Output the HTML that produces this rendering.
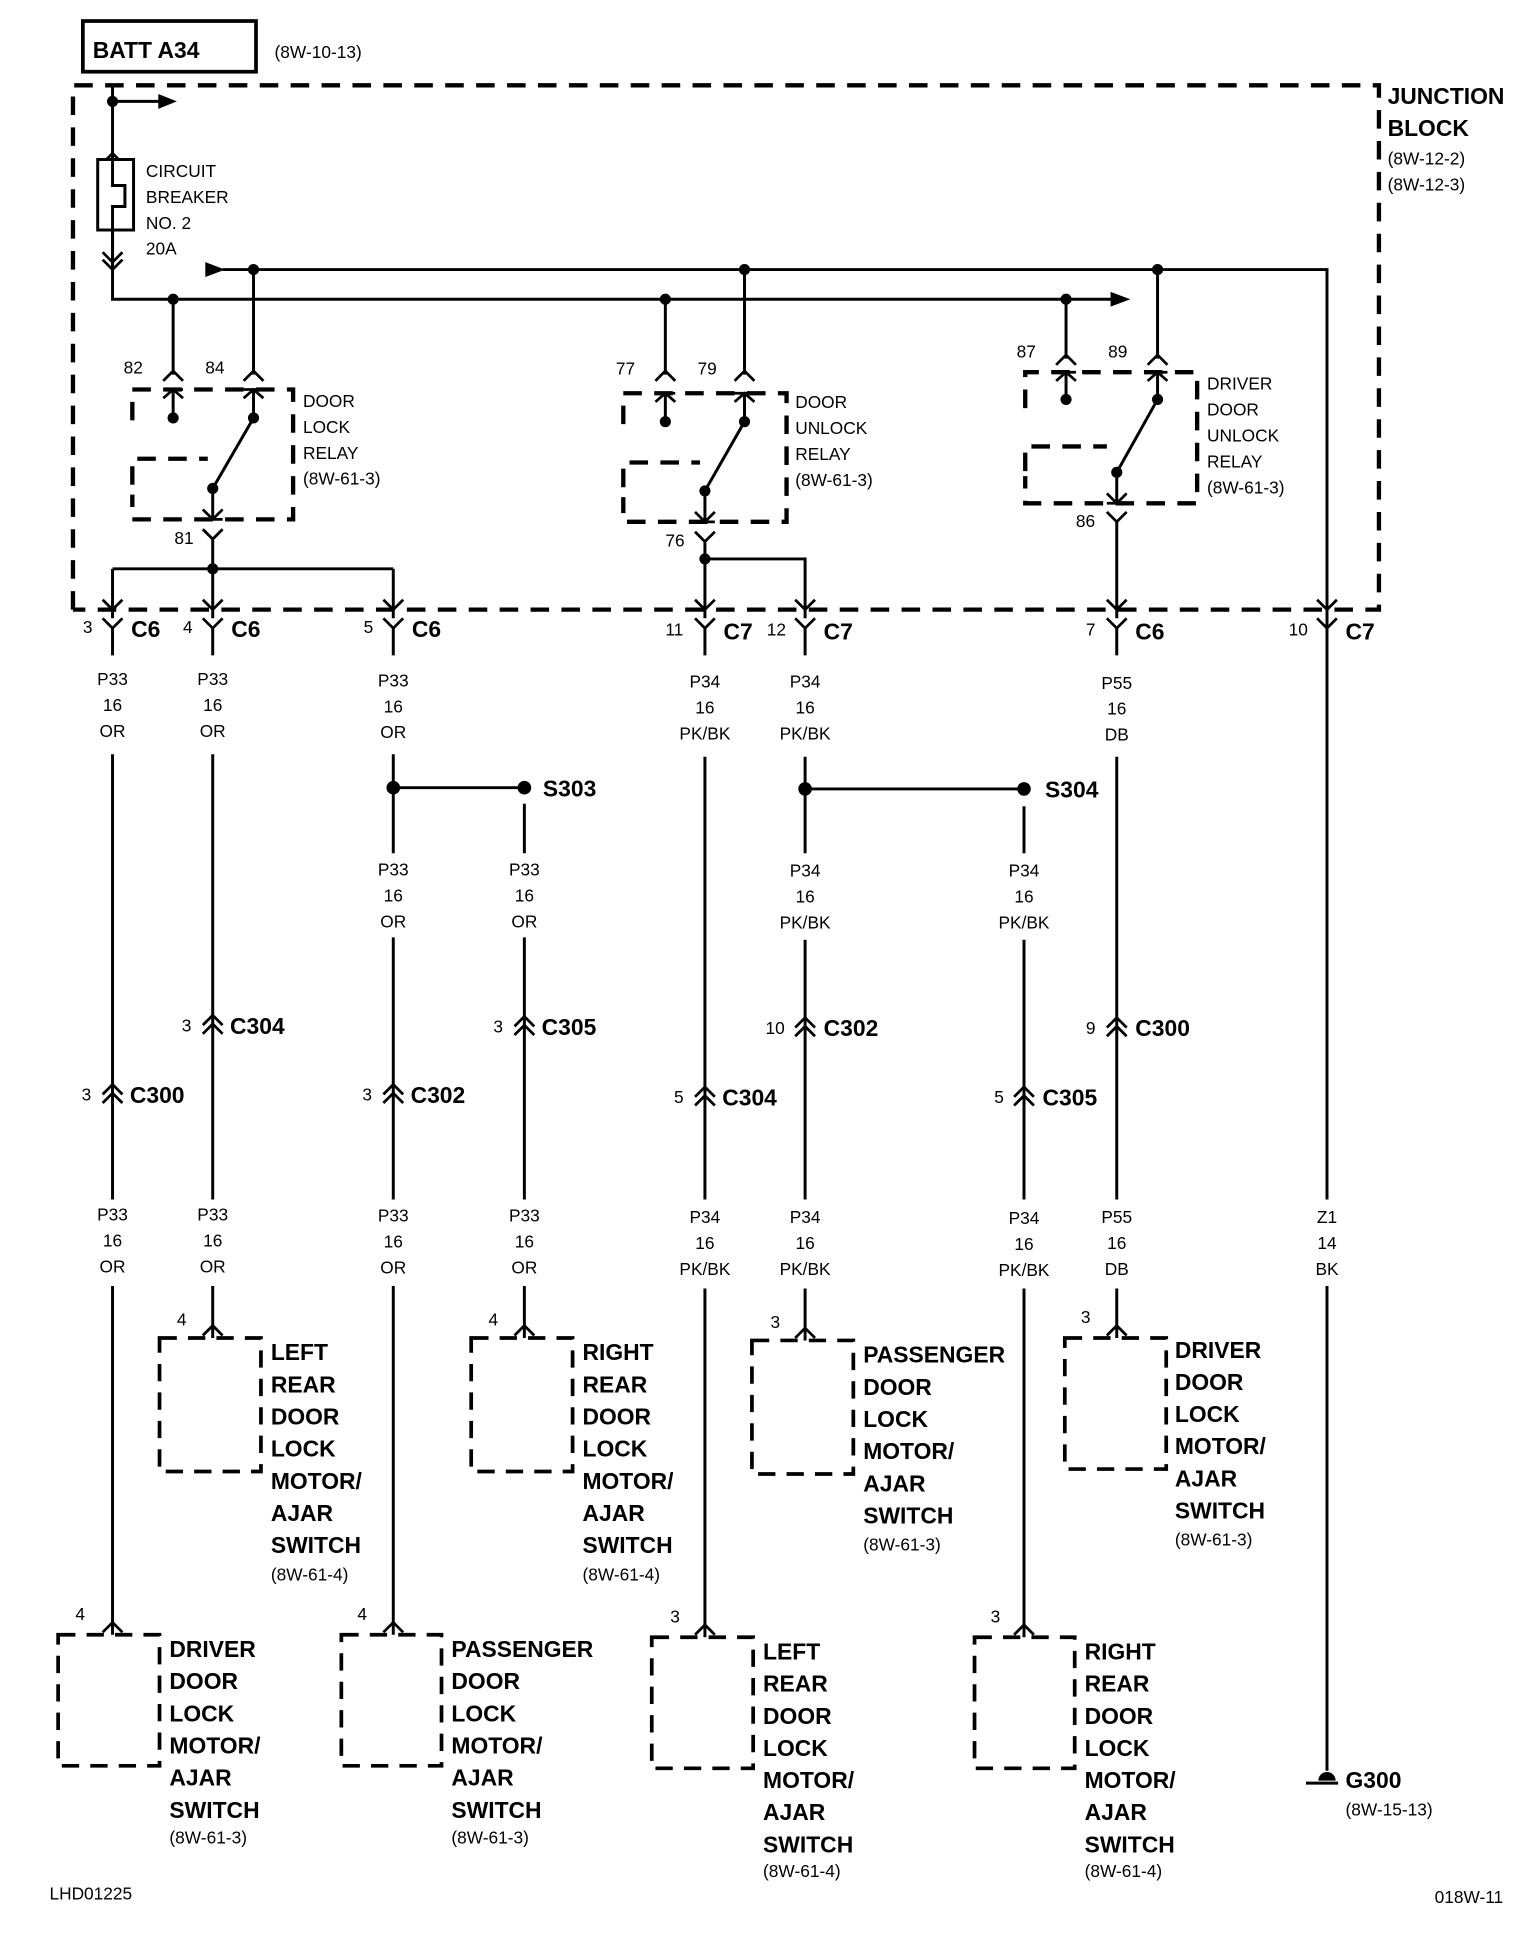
<!DOCTYPE html>
<html><head><meta charset="utf-8"><style>
html,body{margin:0;padding:0;background:#fff;}
svg{display:block}
text{font-family:"Liberation Sans Narrow","Liberation Sans",sans-serif;fill:#000}
.s{font-size:14px}
.b{font-size:18.5px;font-weight:bold}
.w{fill:none;stroke:#000;stroke-width:2.4}
.d{fill:none;stroke:#000;stroke-width:3.5;stroke-dasharray:15 10}
.c{fill:none;stroke:#000;stroke-width:2.2}
</style></head><body>
<svg width="1536" height="1934" viewBox="0 0 1242 1564" preserveAspectRatio="none" xmlns="http://www.w3.org/2000/svg">
<rect x="67" y="17" width="140" height="41" fill="none" stroke="#000" stroke-width="3"/>
<text x="75" y="47" class="b">BATT A34</text>
<text x="222" y="47" class="s">(8W-10-13)</text>
<path class="d" d="M59 493 V69 H1115 V493 H59"/>
<text x="1122" y="84" class="b">JUNCTION</text>
<text x="1122" y="110" class="b">BLOCK</text>
<text x="1122" y="133" class="s">(8W-12-2)</text>
<text x="1122" y="154" class="s">(8W-12-3)</text>
<path class="w" d="M91 69 V242 H900 M91 82 H130"/>
<path d="M128 76 L143 82 L128 88Z"/>
<circle cx="91" cy="82" r="4.5"/>
<path class="c" d="M83 132 L91 124 L99 132 M83 139 L91 131 L99 139 M83 204 L91 212 L99 204 M83 210 L91 218 L99 210"/>
<rect x="79" y="129" width="29" height="57" fill="#fff" stroke="#000" stroke-width="2.4"/>
<path class="w" d="M91 124 V150 H101 V167 H91 V218"/>
<text x="118" y="143" class="s">CIRCUIT</text>
<text x="118" y="164" class="s">BREAKER</text>
<text x="118" y="185" class="s">NO. 2</text>
<text x="118" y="206" class="s">20A</text>
<path d="M898 236 L914 242 L898 248Z"/>
<path class="w" d="M180 218 H1073 V970 M1073 1040 V1432"/>
<path d="M166 212 L182 218 L166 224Z"/>
<circle cx="140" cy="242" r="4.5"/><circle cx="538" cy="242" r="4.5"/><circle cx="862" cy="242" r="4.5"/>
<circle cx="205" cy="218" r="4.5"/><circle cx="602" cy="218" r="4.5"/><circle cx="936" cy="218" r="4.5"/>

<path class="w" d="M140 242 V303 M205 218 V303"/>
<path class="c" d="M132 308 L140 300 L148 308 M197 308 L205 300 L213 308"/>
<text x="100" y="302" class="s">82</text><text x="166" y="302" class="s">84</text>
<path class="d" d="M107 340 V315 H237 V420 H107 V400 M107 392 V371 H168"/>
<path class="c" d="M132 322 L140 315 L148 322 M132 315 H148 M197 322 L205 315 L213 322 M197 315 H213"/>
<path class="w" d="M140 315 V338 M205 315 V338 L172 395 V420"/>
<circle cx="140" cy="338" r="4.5"/><circle cx="205" cy="338" r="4.5"/><circle cx="172" cy="395" r="4.5"/>
<path class="c" d="M164 412 L172 420 L180 412 M164 420 H180 M164 428 L172 436 L180 428"/>
<text x="141" y="440" class="s">81</text>
<path class="w" d="M172 436 V500 M91 460 H318 M91 460 V500 M318 460 V500"/>
<circle cx="172" cy="460" r="4.5"/>
<text x="245" y="329" class="s">DOOR</text><text x="245" y="350" class="s">LOCK</text><text x="245" y="371" class="s">RELAY</text><text x="245" y="392" class="s">(8W-61-3)</text>

<path class="w" d="M538 242 V303 M602 218 V303"/>
<path class="c" d="M530 308 L538 300 L546 308 M594 308 L602 300 L610 308"/>
<text x="498" y="303" class="s">77</text><text x="564" y="303" class="s">79</text>
<path class="d" d="M504 343 V318 H636 V422 H504 V402 M504 394 V374 H566"/>
<path class="c" d="M530 325 L538 318 L546 325 M530 318 H546 M594 325 L602 318 L610 325 M594 318 H610"/>
<path class="w" d="M538 318 V341 M602 318 V341 L570 397 V422"/>
<circle cx="538" cy="341" r="4.5"/><circle cx="602" cy="341" r="4.5"/><circle cx="570" cy="397" r="4.5"/>
<path class="c" d="M562 414 L570 422 L578 414 M562 422 H578 M562 430 L570 438 L578 430"/>
<text x="538" y="442" class="s">76</text>
<path class="w" d="M570 438 V500 M570 452 H651 V500"/>
<circle cx="570" cy="452" r="4.5"/>
<text x="643" y="330" class="s">DOOR</text><text x="643" y="351" class="s">UNLOCK</text><text x="643" y="372" class="s">RELAY</text><text x="643" y="393" class="s">(8W-61-3)</text>

<path class="w" d="M862 242 V290 M936 218 V290"/>
<path class="c" d="M854 295 L862 287 L870 295 M928 295 L936 287 L944 295"/>
<text x="822" y="289" class="s">87</text><text x="896" y="289" class="s">89</text>
<path class="d" d="M829 330 V301 H968 V407 H829 V385 M829 381 V361 H895"/>
<path class="c" d="M854 308 L862 301 L870 308 M854 301 H870 M928 308 L936 301 L944 308 M928 301 H944"/>
<path class="w" d="M862 301 V323 M936 301 V323 L903 382 V407"/>
<circle cx="862" cy="323" r="4.5"/><circle cx="936" cy="323" r="4.5"/><circle cx="903" cy="382" r="4.5"/>
<path class="c" d="M895 399 L903 407 L911 399 M895 407 H911 M895 414 L903 422 L911 414"/>
<text x="870" y="426" class="s">86</text>
<path class="w" d="M903 422 V500"/>
<text x="976" y="315" class="s">DRIVER</text><text x="976" y="336" class="s">DOOR</text><text x="976" y="357" class="s">UNLOCK</text><text x="976" y="378" class="s">RELAY</text><text x="976" y="399" class="s">(8W-61-3)</text>

<path class="c" d="M83 485 L91 493 L99 485 M83 500 L91 508 L99 500 M164 485 L172 493 L180 485 M164 500 L172 508 L180 500 M310 485 L318 493 L326 485 M310 500 L318 508 L326 500 M562 485 L570 493 L578 485 M562 500 L570 508 L578 500 M643 485 L651 493 L659 485 M643 500 L651 508 L659 500 M895 485 L903 493 L911 485 M895 500 L903 508 L911 500 M1065 485 L1073 493 L1081 485 M1065 500 L1073 508 L1081 500"/>
<path class="w" d="M91 508 V530 M172 508 V530 M318 508 V530 M570 508 V530 M651 508 V530 M903 508 V530"/>
<text x="67" y="512" class="s">3</text><text x="106" y="515" class="b">C6</text>
<text x="148" y="512" class="s">4</text><text x="187" y="515" class="b">C6</text>
<text x="294" y="512" class="s">5</text><text x="333" y="515" class="b">C6</text>
<text x="538" y="514" class="s">11</text><text x="585" y="517" class="b">C7</text>
<text x="620" y="514" class="s">12</text><text x="666" y="517" class="b">C7</text>
<text x="878" y="514" class="s">7</text><text x="918" y="517" class="b">C6</text>
<text x="1042" y="514" class="s">10</text><text x="1088" y="517" class="b">C7</text>

<g class="s" text-anchor="middle">
<text x="91" y="554">P33</text><text x="91" y="575">16</text><text x="91" y="596">OR</text>
<text x="172" y="554">P33</text><text x="172" y="575">16</text><text x="172" y="596">OR</text>
<text x="318" y="555">P33</text><text x="318" y="576">16</text><text x="318" y="597">OR</text>
<text x="570" y="556">P34</text><text x="570" y="577">16</text><text x="570" y="598">PK/BK</text>
<text x="651" y="556">P34</text><text x="651" y="577">16</text><text x="651" y="598">PK/BK</text>
<text x="903" y="557">P55</text><text x="903" y="578">16</text><text x="903" y="599">DB</text>
<text x="318" y="708">P33</text><text x="318" y="729">16</text><text x="318" y="750">OR</text>
<text x="424" y="708">P33</text><text x="424" y="729">16</text><text x="424" y="750">OR</text>
<text x="651" y="709">P34</text><text x="651" y="730">16</text><text x="651" y="751">PK/BK</text>
<text x="828" y="709">P34</text><text x="828" y="730">16</text><text x="828" y="751">PK/BK</text>
<text x="91" y="987">P33</text><text x="91" y="1008">16</text><text x="91" y="1029">OR</text>
<text x="172" y="987">P33</text><text x="172" y="1008">16</text><text x="172" y="1029">OR</text>
<text x="318" y="988">P33</text><text x="318" y="1009">16</text><text x="318" y="1030">OR</text>
<text x="424" y="988">P33</text><text x="424" y="1009">16</text><text x="424" y="1030">OR</text>
<text x="570" y="989">P34</text><text x="570" y="1010">16</text><text x="570" y="1031">PK/BK</text>
<text x="651" y="989">P34</text><text x="651" y="1010">16</text><text x="651" y="1031">PK/BK</text>
<text x="828" y="990">P34</text><text x="828" y="1011">16</text><text x="828" y="1032">PK/BK</text>
<text x="903" y="989">P55</text><text x="903" y="1010">16</text><text x="903" y="1031">DB</text>
<text x="1073" y="989">Z1</text><text x="1073" y="1010">14</text><text x="1073" y="1031">BK</text>
</g>

<path class="w" d="M91 610 V970 M91 1040 V1312 M172 610 V970 M172 1040 V1072 M318 610 V690 M318 637 H424 M318 758 V970 M318 1040 V1312 M424 650 V690 M424 758 V970 M424 1040 V1072 M570 612 V970 M570 1042 V1314 M651 612 V690 M651 638 H828 M651 760 V970 M651 1042 V1074 M828 652 V690 M828 760 V970 M828 1042 V1314 M903 612 V970 M903 1042 V1072"/>
<circle cx="318" cy="637" r="5.5"/><circle cx="424" cy="637" r="5.5"/>
<circle cx="651" cy="638" r="5.5"/><circle cx="828" cy="638" r="5.5"/>
<text x="439" y="644" class="b">S303</text><text x="845" y="645" class="b">S304</text>

<path class="c" d="M83 885 L91 877 L99 885 M83 892 L91 884 L99 892 M164 829 L172 821 L180 829 M164 836 L172 828 L180 836 M310 885 L318 877 L326 885 M310 892 L318 884 L326 892 M416 830 L424 822 L432 830 M416 837 L424 829 L432 837 M562 887 L570 879 L578 887 M562 894 L570 886 L578 894 M643 831 L651 823 L659 831 M643 838 L651 830 L659 838 M820 887 L828 879 L836 887 M820 894 L828 886 L836 894 M895 831 L903 823 L911 831 M895 838 L903 830 L911 838"/>
<text x="66" y="890" class="s">3</text><text x="105" y="892" class="b">C300</text>
<text x="147" y="834" class="s">3</text><text x="186" y="836" class="b">C304</text>
<text x="293" y="890" class="s">3</text><text x="332" y="892" class="b">C302</text>
<text x="399" y="835" class="s">3</text><text x="438" y="837" class="b">C305</text>
<text x="545" y="892" class="s">5</text><text x="584" y="894" class="b">C304</text>
<text x="619" y="836" class="s">10</text><text x="666" y="838" class="b">C302</text>
<text x="804" y="892" class="s">5</text><text x="843" y="894" class="b">C305</text>
<text x="878" y="836" class="s">9</text><text x="918" y="838" class="b">C300</text>

<path class="c" d="M164 1080 L172 1072 L180 1080 M416 1080 L424 1072 L432 1080 M643 1082 L651 1074 L659 1082 M895 1080 L903 1072 L911 1080 M83 1320 L91 1312 L99 1320 M310 1320 L318 1312 L326 1320 M562 1322 L570 1314 L578 1322 M820 1322 L828 1314 L836 1322"/>
<path class="w" d="M172 1072 V1082 M424 1072 V1082 M651 1074 V1084 M903 1072 V1082 M91 1312 V1322 M318 1312 V1322 M570 1314 V1324 M828 1314 V1324"/>
<g class="d" style="stroke-width:3;stroke-dasharray:14 9">
<rect x="129" y="1082" width="82" height="108"/>
<rect x="381" y="1082" width="82" height="108"/>
<rect x="608" y="1084" width="82" height="108"/>
<rect x="861" y="1082" width="82" height="106"/>
<rect x="47" y="1322" width="82" height="106"/>
<rect x="276" y="1322" width="81" height="106"/>
<rect x="527" y="1324" width="82" height="106"/>
<rect x="788" y="1324" width="81" height="106"/>
</g>
<text x="143" y="1072" class="s">4</text><text x="395" y="1072" class="s">4</text><text x="623" y="1074" class="s">3</text><text x="874" y="1070" class="s">3</text>
<text x="61" y="1310" class="s">4</text><text x="289" y="1310" class="s">4</text><text x="542" y="1312" class="s">3</text><text x="801" y="1312" class="s">3</text>

<g class="b">
<text x="219" y="1100">LEFT</text><text x="219" y="1126">REAR</text><text x="219" y="1152">DOOR</text><text x="219" y="1178">LOCK</text><text x="219" y="1204">MOTOR/</text><text x="219" y="1230">AJAR</text><text x="219" y="1256">SWITCH</text>
<text x="471" y="1100">RIGHT</text><text x="471" y="1126">REAR</text><text x="471" y="1152">DOOR</text><text x="471" y="1178">LOCK</text><text x="471" y="1204">MOTOR/</text><text x="471" y="1230">AJAR</text><text x="471" y="1256">SWITCH</text>
<text x="698" y="1102">PASSENGER</text><text x="698" y="1128">DOOR</text><text x="698" y="1154">LOCK</text><text x="698" y="1180">MOTOR/</text><text x="698" y="1206">AJAR</text><text x="698" y="1232">SWITCH</text>
<text x="950" y="1098">DRIVER</text><text x="950" y="1124">DOOR</text><text x="950" y="1150">LOCK</text><text x="950" y="1176">MOTOR/</text><text x="950" y="1202">AJAR</text><text x="950" y="1228">SWITCH</text>
<text x="137" y="1340">DRIVER</text><text x="137" y="1366">DOOR</text><text x="137" y="1392">LOCK</text><text x="137" y="1418">MOTOR/</text><text x="137" y="1444">AJAR</text><text x="137" y="1470">SWITCH</text>
<text x="365" y="1340">PASSENGER</text><text x="365" y="1366">DOOR</text><text x="365" y="1392">LOCK</text><text x="365" y="1418">MOTOR/</text><text x="365" y="1444">AJAR</text><text x="365" y="1470">SWITCH</text>
<text x="617" y="1342">LEFT</text><text x="617" y="1368">REAR</text><text x="617" y="1394">DOOR</text><text x="617" y="1420">LOCK</text><text x="617" y="1446">MOTOR/</text><text x="617" y="1472">AJAR</text><text x="617" y="1498">SWITCH</text>
<text x="877" y="1342">RIGHT</text><text x="877" y="1368">REAR</text><text x="877" y="1394">DOOR</text><text x="877" y="1420">LOCK</text><text x="877" y="1446">MOTOR/</text><text x="877" y="1472">AJAR</text><text x="877" y="1498">SWITCH</text>
<text x="1088" y="1446">G300</text>
</g>
<g class="s">
<text x="219" y="1278">(8W-61-4)</text>
<text x="471" y="1278">(8W-61-4)</text>
<text x="698" y="1254">(8W-61-3)</text>
<text x="950" y="1250">(8W-61-3)</text>
<text x="137" y="1491">(8W-61-3)</text>
<text x="365" y="1491">(8W-61-3)</text>
<text x="617" y="1518">(8W-61-4)</text>
<text x="877" y="1518">(8W-61-4)</text>
<text x="1088" y="1468">(8W-15-13)</text>
<text x="40" y="1536">LHD01225</text>
<text x="1160" y="1539">018W-11</text>
</g>
<path d="M1066 1440 A7 7 0 0 1 1080 1440Z"/>
<path class="w" d="M1056 1442 H1082"/>
</svg>
</body></html>
